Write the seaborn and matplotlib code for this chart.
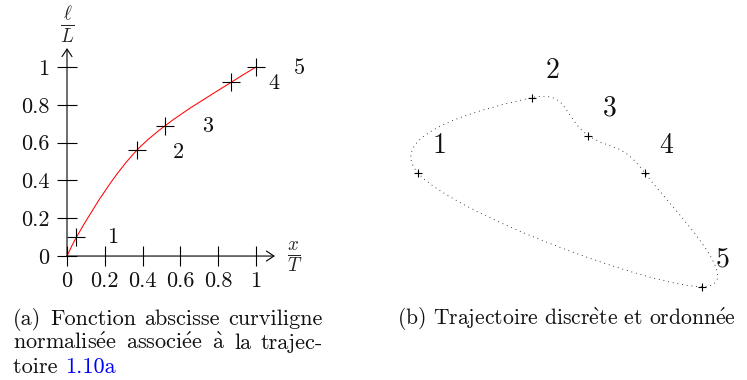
import numpy as np
import matplotlib
matplotlib.use("Agg")
import matplotlib.pyplot as plt
from matplotlib.path import Path
from matplotlib.patches import PathPatch
import seaborn as sns

# Normalised curvilinear abscissa l/L as a function of x/T
x_norm = [0.0, 0.05, 0.37, 0.52, 0.87, 1.0]
l_norm = [0.0, 0.10, 0.56, 0.69, 0.92, 1.0]
point_ids = ["1", "2", "3", "4", "5"]
tick_values = [0, 0.2, 0.4, 0.6, 0.8, 1]
tick_labels = ["0", "0.2", "0.4", "0.6", "0.8", "1"]

# Discrete, ordered trajectory (cm)
traj_x = [0.0, 3.0, 4.5, 6.0, 7.5]
traj_y = [0.0, 2.0, 1.0, 0.0, -3.0]

# Captions (accented letters go through mathtext so they stay in Computer Modern)
E_ACUTE = r"$\acute{\mathrm{e}}$"
E_GRAVE = r"$\grave{\mathrm{e}}$"
A_GRAVE = r"$\grave{\mathrm{a}}$"
caption_a = ["(a) Fonction abscisse curviligne",
             f"normalis{E_ACUTE}e associ{E_ACUTE}e {A_GRAVE} la trajec-",
             "toire "]
caption_a_ref = "1.10a"
caption_b = f"(b) Trajectoire discr{E_GRAVE}te et ordonn{E_ACUTE}e"

sns.set_theme(style="white")
plt.rcParams["font.family"] = ["cmr10", "DejaVu Serif"]
plt.rcParams["mathtext.fontset"] = "cm"
plt.rcParams["axes.unicode_minus"] = False


def monotone_path(x, y):
    """Monotone cubic (Fritsch-Carlson) curve through the samples as Bezier segments."""
    x = np.asarray(x, float)
    y = np.asarray(y, float)
    h = np.diff(x)
    delta = np.diff(y) / h
    n = len(x)
    d = np.zeros(n)
    for k in range(1, n - 1):
        if delta[k - 1] * delta[k] > 0:
            w1 = 2 * h[k] + h[k - 1]
            w2 = h[k] + 2 * h[k - 1]
            d[k] = (w1 + w2) / (w1 / delta[k - 1] + w2 / delta[k])

    def end_slope(h0, h1, d0, d1):
        s = ((2 * h0 + h1) * d0 - h0 * d1) / (h0 + h1)
        if np.sign(s) != np.sign(d0):
            return 0.0
        if np.sign(d0) != np.sign(d1) and abs(s) > abs(3 * d0):
            return 3 * d0
        return s

    d[0] = end_slope(h[0], h[1], delta[0], delta[1])
    d[-1] = end_slope(h[-1], h[-2], delta[-1], delta[-2])
    verts = [(x[0], y[0])]
    codes = [Path.MOVETO]
    for k in range(n - 1):
        verts += [(x[k] + h[k] / 3, y[k] + d[k] * h[k] / 3),
                  (x[k + 1] - h[k] / 3, y[k + 1] - d[k + 1] * h[k] / 3),
                  (x[k + 1], y[k + 1])]
        codes += [Path.CURVE4] * 3
    return Path(verts, codes)


def closed_smooth_path(x, y, tension=0.22):
    """Closed cardinal spline through the points, as Bezier segments."""
    p = np.column_stack([x, y]).astype(float)
    n = len(p)
    verts = [tuple(p[0])]
    codes = [Path.MOVETO]
    for i in range(n):
        p0, p1, p2, p3 = p[i - 1], p[i], p[(i + 1) % n], p[(i + 2) % n]
        c1 = p1 + tension * (p2 - p0)
        c2 = p2 - tension * (p3 - p1)
        verts += [tuple(c1), tuple(c2), tuple(p2)]
        codes += [Path.CURVE4] * 3
    return Path(verts, codes)


W, H = 747, 380
TXT = 16.0
INK = "#111111"
fig = plt.figure(figsize=(W / 100, H / 100), dpi=100)

# ---- (a) normalised curvilinear abscissa ----
axL = fig.add_axes([10.3 / W, (H - 303.3) / H, 302.4 / W, 283.55 / H])
axL.set_xlim(-0.3, 1.3)
axL.set_ylim(-0.25, 1.25)
axL.patch.set_alpha(0)
for s in axL.spines.values():
    s.set_visible(False)
axL.spines["left"].set_position(("data", 0))
axL.spines["bottom"].set_position(("data", 0))
axL.set_xticks(tick_values, tick_labels)
axL.set_yticks(tick_values, tick_labels)
axL.tick_params(bottom=True, left=True, direction="inout", length=13.7,
                width=0.8, color="black", labelsize=TXT, labelcolor=INK)
axL.tick_params(axis="x", pad=4.5)
axL.tick_params(axis="y", pad=6)
axL.set_xlabel("")
axL.set_ylabel("")

arrow = dict(arrowstyle="->,head_length=0.45,head_width=0.3", lw=0.8,
             color="black", shrinkA=0, shrinkB=0)
axL.annotate("", xy=(1.1, 0), xytext=(0, 0), arrowprops=arrow)
axL.annotate("", xy=(0, 1.1), xytext=(0, 0), arrowprops=arrow)

axL.add_patch(PathPatch(monotone_path(x_norm, l_norm), fill=False,
                        edgecolor="red", lw=0.75))
sns.scatterplot(x=x_norm[1:], y=l_norm[1:], marker="+", s=170, color="black",
                linewidth=0.8, ax=axL, zorder=5)
label_offsets = [(36, 0), (42, -2), (42, -1), (43, -1), (43, -1)]
for xi, yi, lab, off in zip(x_norm[1:], l_norm[1:], point_ids, label_offsets):
    axL.annotate(lab, (xi, yi), xytext=off, textcoords="offset pixels",
                 ha="center", va="center", fontsize=TXT, color=INK)

axL.text(0.005, 1.222, r"$\frac{\ell}{L}$", ha="center", va="center", fontsize=19.5)
axL.text(1.206, -0.005, r"$\frac{x}{T}$", ha="center", va="center", fontsize=19.5)

# ---- (b) discrete ordered trajectory ----
axR = fig.add_axes([380.5 / W, (H - 324.5) / H, 359.1 / W, 283.5 / H])
axR.set_xlim(-1, 8.5)
axR.set_ylim(-4, 3.5)
axR.set_axis_off()
axR.add_patch(PathPatch(closed_smooth_path(traj_x, traj_y), fill=False,
                        edgecolor="black", lw=0.6, linestyle=(0, (1, 4.7))))
sns.scatterplot(x=traj_x, y=traj_y, marker="+", s=36, color="black",
                linewidth=0.8, ax=axR, zorder=5)
for xi, yi, lab in zip(traj_x, traj_y, point_ids):
    axR.annotate(lab, (xi, yi), xytext=(21, 27), textcoords="offset pixels",
                 ha="center", va="center", fontsize=20, color=INK)

# ---- captions ----
cap = dict(fontsize=TXT, color=INK, va="baseline", ha="left")


def justified_line(text, x0, x1, y, **kw):
    """Spread the words of one caption line evenly between x0 and x1 (pixels)."""
    words = text.split(" ")
    arts = [fig.text(x0 / W, 1 - y / H, w, **kw) for w in words]
    fig.canvas.draw()
    rend = fig.canvas.get_renderer()
    widths = [a.get_window_extent(rend).width for a in arts]
    gap = (x1 - x0 - sum(widths)) / max(len(words) - 1, 1)
    pos = x0
    for a, w in zip(arts, widths):
        a.set_x(pos / W)
        pos += w + gap
    return arts


justified_line(caption_a[0], 13, 323, 325, **cap)
justified_line(caption_a[1], 13, 323, 349, **cap)
t3 = fig.text(13 / W, 1 - 373 / H, caption_a[2], **cap)
axL.annotate(caption_a_ref, xy=(1, 0), xycoords=t3, va="bottom", ha="left",
             fontsize=TXT, color="blue", annotation_clip=False)
fig.text(397 / W, 1 - 324 / H, caption_b, fontsize=15.6, color=INK,
         va="baseline", ha="left")

fig.savefig("out.png", dpi=100)
